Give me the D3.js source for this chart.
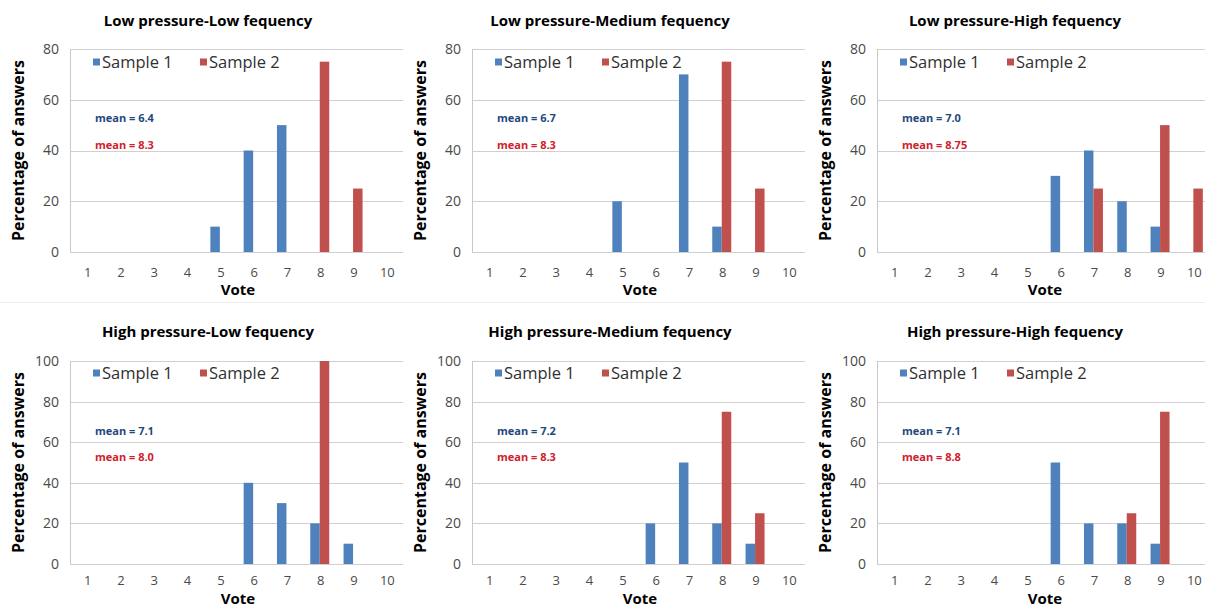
<!DOCTYPE html>
<html>
<head>
<meta charset="utf-8">
<script src="https://cdn.jsdelivr.net/npm/d3@7"></script>
<style>
  body { margin: 0; background: #fff; }
  svg { display: block; font-family: "Open Sans", sans-serif; }
</style>
</head>
<body>
<div id="chart"></div>
<script>
// chart data
const votes = ["1", "2", "3", "4", "5", "6", "7", "8", "9", "10"];
const titles = [
    "Low pressure-Low fequency", "Low pressure-Medium fequency", "Low pressure-High fequency",
    "High pressure-Low fequency", "High pressure-Medium fequency", "High pressure-High fequency"
];
const sample1 = [
    [0, 0, 0, 0, 10, 40, 50, 0, 0, 0],
    [0, 0, 0, 0, 20, 0, 70, 10, 0, 0],
    [0, 0, 0, 0, 0, 30, 40, 20, 10, 0],
    [0, 0, 0, 0, 0, 40, 30, 20, 10, 0],
    [0, 0, 0, 0, 0, 20, 50, 20, 10, 0],
    [0, 0, 0, 0, 0, 50, 20, 20, 10, 0]
];
const sample2 = [
    [0, 0, 0, 0, 0, 0, 0, 75, 25, 0],
    [0, 0, 0, 0, 0, 0, 0, 75, 25, 0],
    [0, 0, 0, 0, 0, 0, 25, 0, 50, 25],
    [0, 0, 0, 0, 0, 0, 0, 100, 0, 0],
    [0, 0, 0, 0, 0, 0, 0, 75, 25, 0],
    [0, 0, 0, 0, 0, 0, 0, 25, 75, 0]
];
const mean1 = ["6.4", "6.7", "7.0", "7.1", "7.2", "7.1"];
const mean2 = ["8.3", "8.3", "8.75", "8.0", "8.3", "8.8"];
const yMax = [80, 80, 80, 100, 100, 100];
const seriesNames = ["Sample 1", "Sample 2"];

const W = 1205, H = 609;
const blue = "#4f81bd", red = "#c0504d";

const svg = d3.select("#chart").append("svg")
    .attr("width", W)
    .attr("height", H);

// faint separator between the two rows
svg.append("line")
    .attr("x1", 0).attr("x2", W)
    .attr("y1", 302.5).attr("y2", 302.5)
    .attr("stroke", "#ececec");

// panel placement
const colX = [0, 402, 807];
const rows = [
    { top: 49, bottom: 252, title: 21, tick: 272, vote: 290, legend: 62, m1: 118, m2: 145 },
    { top: 361, bottom: 564, title: 332, tick: 580, vote: 599, legend: 373, m1: 431, m2: 457 }
];

titles.forEach(function (t, i) {
    const r = rows[Math.floor(i / 3)];
    const ox = colX[i % 3];
    const g = svg.append("g").attr("transform", "translate(" + ox + ",0)");

    const x = d3.scaleBand().domain(votes).range([70, 403])
        .paddingInner(0.43).paddingOuter(0.215);
    const xs = d3.scaleBand().domain(seriesNames).range([0, x.bandwidth()]);
    const y = d3.scaleLinear().domain([0, yMax[i]]).range([r.bottom, r.top]);

    // gridlines
    g.selectAll("line.grid")
        .data(y.ticks(yMax[i] / 20))
        .join("line")
        .attr("class", "grid")
        .attr("x1", 70).attr("x2", 403)
        .attr("y1", function (d) { return Math.round(y(d)) + 0.5; })
        .attr("y2", function (d) { return Math.round(y(d)) + 0.5; })
        .attr("stroke", "#d0d0d0");

    g.append("line")
        .attr("x1", 70.5).attr("x2", 70.5)
        .attr("y1", r.top).attr("y2", r.bottom)
        .attr("stroke", "#c8c8c8");

    // y tick labels
    g.selectAll("text.ytick")
        .data(y.ticks(yMax[i] / 20))
        .join("text")
        .attr("class", "ytick")
        .attr("x", 59)
        .attr("y", function (d) { return y(d); })
        .attr("dy", "0.35em")
        .attr("text-anchor", "end")
        .attr("font-size", 14)
        .attr("fill", "#4a4a4a")
        .text(function (d) { return d; });

    // x tick labels
    g.selectAll("text.xtick")
        .data(votes)
        .join("text")
        .attr("class", "xtick")
        .attr("x", function (d) { return x(d) + x.bandwidth() / 2 + 1; })
        .attr("y", r.tick)
        .attr("dy", "0.35em")
        .attr("text-anchor", "middle")
        .attr("font-size", 13)
        .attr("fill", "#4a4a4a")
        .text(function (d) { return d; });

    // bars
    const series = [
        { name: seriesNames[0], vals: sample1[i], color: blue },
        { name: seriesNames[1], vals: sample2[i], color: red }
    ];
    series.forEach(function (s) {
        g.selectAll(null)
            .data(votes.map(function (v, k) { return { v: v, val: s.vals[k] }; }).filter(function (d) { return d.val > 0; }))
            .join("rect")
            .attr("x", function (d) { return x(d.v) + xs(s.name); })
            .attr("width", xs.bandwidth())
            .attr("y", function (d) { return y(d.val); })
            .attr("height", function (d) { return y(0) - y(d.val); })
            .attr("fill", s.color);
    });

    // title
    g.append("text")
        .attr("x", 208)
        .attr("y", r.title)
        .attr("dy", "0.35em")
        .attr("text-anchor", "middle")
        .attr("font-size", 15)
        .attr("font-weight", "bold")
        .attr("fill", "#000")
        .text(t);

    // axis titles
    g.append("text")
        .attr("transform", "translate(18," + ((r.top + r.bottom) / 2) + ") rotate(-90)")
        .attr("dy", "0.35em")
        .attr("text-anchor", "middle")
        .attr("font-size", 16)
        .attr("font-weight", "bold")
        .attr("fill", "#000")
        .text("Percentage of answers");

    g.append("text")
        .attr("x", 238)
        .attr("y", r.vote)
        .attr("dy", "0.35em")
        .attr("text-anchor", "middle")
        .attr("font-size", 15)
        .attr("font-weight", "bold")
        .attr("fill", "#000")
        .text("Vote");

    // legend
    const leg = g.append("g").attr("transform", "translate(93," + r.legend + ")");
    series.forEach(function (s, k) {
        const lx = k * 107;
        leg.append("rect")
            .attr("x", lx).attr("y", -3.5)
            .attr("width", 7).attr("height", 7)
            .attr("fill", s.color);
        leg.append("text")
            .attr("x", lx + 9)
            .attr("y", 0)
            .attr("dy", "0.35em")
            .attr("font-size", 16.5)
            .attr("fill", "#303030")
            .text(s.name);
    });

    // mean annotations
    g.append("text")
        .attr("x", 95).attr("y", r.m1).attr("dy", "0.35em")
        .attr("font-size", 11).attr("font-weight", "bold")
        .attr("fill", "#1f497d")
        .text("mean = " + mean1[i]);
    g.append("text")
        .attr("x", 95).attr("y", r.m2).attr("dy", "0.35em")
        .attr("font-size", 11).attr("font-weight", "bold")
        .attr("fill", "#d0212e")
        .text("mean = " + mean2[i]);
});
</script>
</body>
</html>
